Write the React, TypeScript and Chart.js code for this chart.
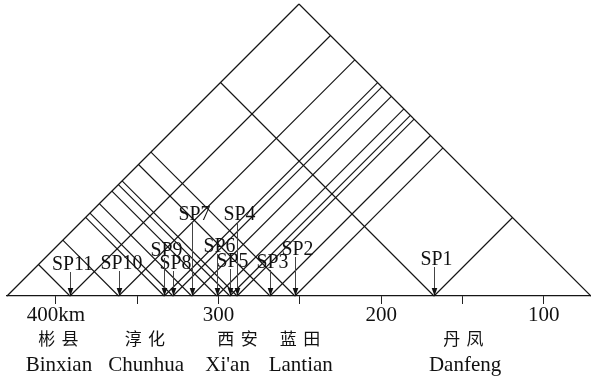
import React, { useEffect, useRef } from 'react';
import { Chart, registerables } from 'chart.js';

Chart.register(...registerables);

// ---- data ----
const sampleNames = ['SP1', 'SP2', 'SP3', 'SP4', 'SP5', 'SP6', 'SP7', 'SP8', 'SP9', 'SP10', 'SP11'];
const sampleKm = [167.5, 253.0, 268.3, 288.5, 293.0, 301.0, 316.5, 328.0, 333.3, 361.4, 391.3];
const sectionEndsKm = [430, 71]; // west end, east end
const tickValues = [400, 350, 300, 250, 200, 150, 100];
const tickLabels = ['400km', '', '300', '', '200', '', '100'];
const cityCn = ['彬县', '淳化', '西安', '蓝田', '丹凤'];
const cityEn = ['Binxian', 'Chunhua', "Xi'an", 'Lantian', 'Danfeng'];
const cityCnKm = [398.4, 345.2, 288.3, 249.9, 149.5];
const cityEnKm = [398.1, 344.4, 294.4, 249.4, 148.4];

// ---- layout (pixels above base line for each sample label) ----
const labelRise = [31, 41, 28, 76, 29, 44, 76, 27, 40, 27, 26];

const LINE = '#151515';

export default function App() {
  const ref = useRef<HTMLCanvasElement | null>(null);

  useEffect(() => {
    if (!ref.current) return;
    const west = sectionEndsKm[0];
    const east = sectionEndsKm[1];
    const apexX = (west + east) / 2;
    const apexY = (west - east) / 2;

    const segs: { x: number; y: number }[][] = [
      [{ x: west, y: 0 }, { x: apexX, y: apexY }],
      [{ x: east, y: 0 }, { x: apexX, y: apexY }],
    ];
    sampleKm.forEach((p) => {
      segs.push([{ x: p, y: 0 }, { x: (west + p) / 2, y: (west - p) / 2 }]);
      segs.push([{ x: p, y: 0 }, { x: (p + east) / 2, y: (p - east) / 2 }]);
    });

    const annot = {
      id: 'annot',
      afterDraw(chart: any) {
        const { ctx } = chart;
        const x = chart.scales.x;
        const y = chart.scales.y;
        const base = y.getPixelForValue(0);
        ctx.save();
        sampleKm.forEach((km, i) => {
          const px = Math.round(x.getPixelForValue(km)) + 0.5;
          const top = base - labelRise[i];
          ctx.strokeStyle = '#444';
          ctx.lineWidth = 1;
          ctx.beginPath();
          ctx.moveTo(px, top + 2);
          ctx.lineTo(px, base - 6);
          ctx.stroke();
          ctx.fillStyle = '#111';
          ctx.beginPath();
          ctx.moveTo(px, base);
          ctx.lineTo(px - 2.8, base - 8);
          ctx.lineTo(px + 2.8, base - 8);
          ctx.closePath();
          ctx.fill();
          ctx.save();
          ctx.translate(px + 2, top);
          ctx.scale(0.9, 1);
          ctx.font = '22px "Liberation Serif"';
          ctx.textAlign = 'center';
          ctx.textBaseline = 'alphabetic';
          ctx.fillText(sampleNames[i], 0, 0);
          ctx.restore();
        });
        ctx.fillStyle = '#111';
        ctx.textAlign = 'center';
        ctx.textBaseline = 'middle';
        ctx.font = '17px "Noto Sans CJK SC"';
        cityCn.forEach((name, i) => {
          const cx = x.getPixelForValue(cityCnKm[i]);
          const chars = Array.from(name);
          const pitch = 23.3;
          chars.forEach((ch, j) => {
            ctx.fillText(ch, cx + (j - (chars.length - 1) / 2) * pitch, 339);
          });
        });
        ctx.textBaseline = 'alphabetic';
        ctx.font = '21px "Liberation Serif"';
        cityEn.forEach((name, i) => {
          ctx.fillText(name, x.getPixelForValue(cityEnKm[i]), 370.5);
        });
        ctx.restore();
      },
    };

    const chart = new Chart(ref.current, {
      type: 'scatter',
      data: {
        datasets: segs.map((s) => ({
          data: s,
          showLine: true,
          pointRadius: 0,
          borderColor: LINE,
          borderWidth: 1.15,
          clip: false as any,
        })),
      },
      options: {
        responsive: false,
        animation: false,
        layout: { padding: { left: 7, right: 0, top: 4, bottom: 0 } },
        plugins: { legend: { display: false }, tooltip: { enabled: false } },
        scales: {
          x: {
            type: 'linear',
            reverse: true,
            min: east,
            max: west,
            afterBuildTicks: (s: any) => {
              s.ticks = tickValues.map((v) => ({ value: v }));
            },
            afterFit: (s: any) => {
              s.height = 83;
            },
            grid: { drawOnChartArea: false, drawTicks: true, tickLength: 8, color: '#222', lineWidth: 1 },
            border: { display: true, color: LINE, width: 1.15 },
            ticks: {
              autoSkip: false,
              maxRotation: 0,
              padding: -1,
              color: '#111',
              font: { family: 'Liberation Serif', size: 21 },
              callback: (_v: any, idx: number) => tickLabels[idx],
            },
          },
          y: { display: false, min: 0, max: apexY },
        },
      },
      plugins: [annot],
    });
    return () => chart.destroy();
  }, []);

  return (
    <div style={{ position: 'absolute', left: 0, top: 0, width: 591, height: 379, background: '#fff' }}>
      <canvas ref={ref} width={591} height={379} />
    </div>
  );
}
